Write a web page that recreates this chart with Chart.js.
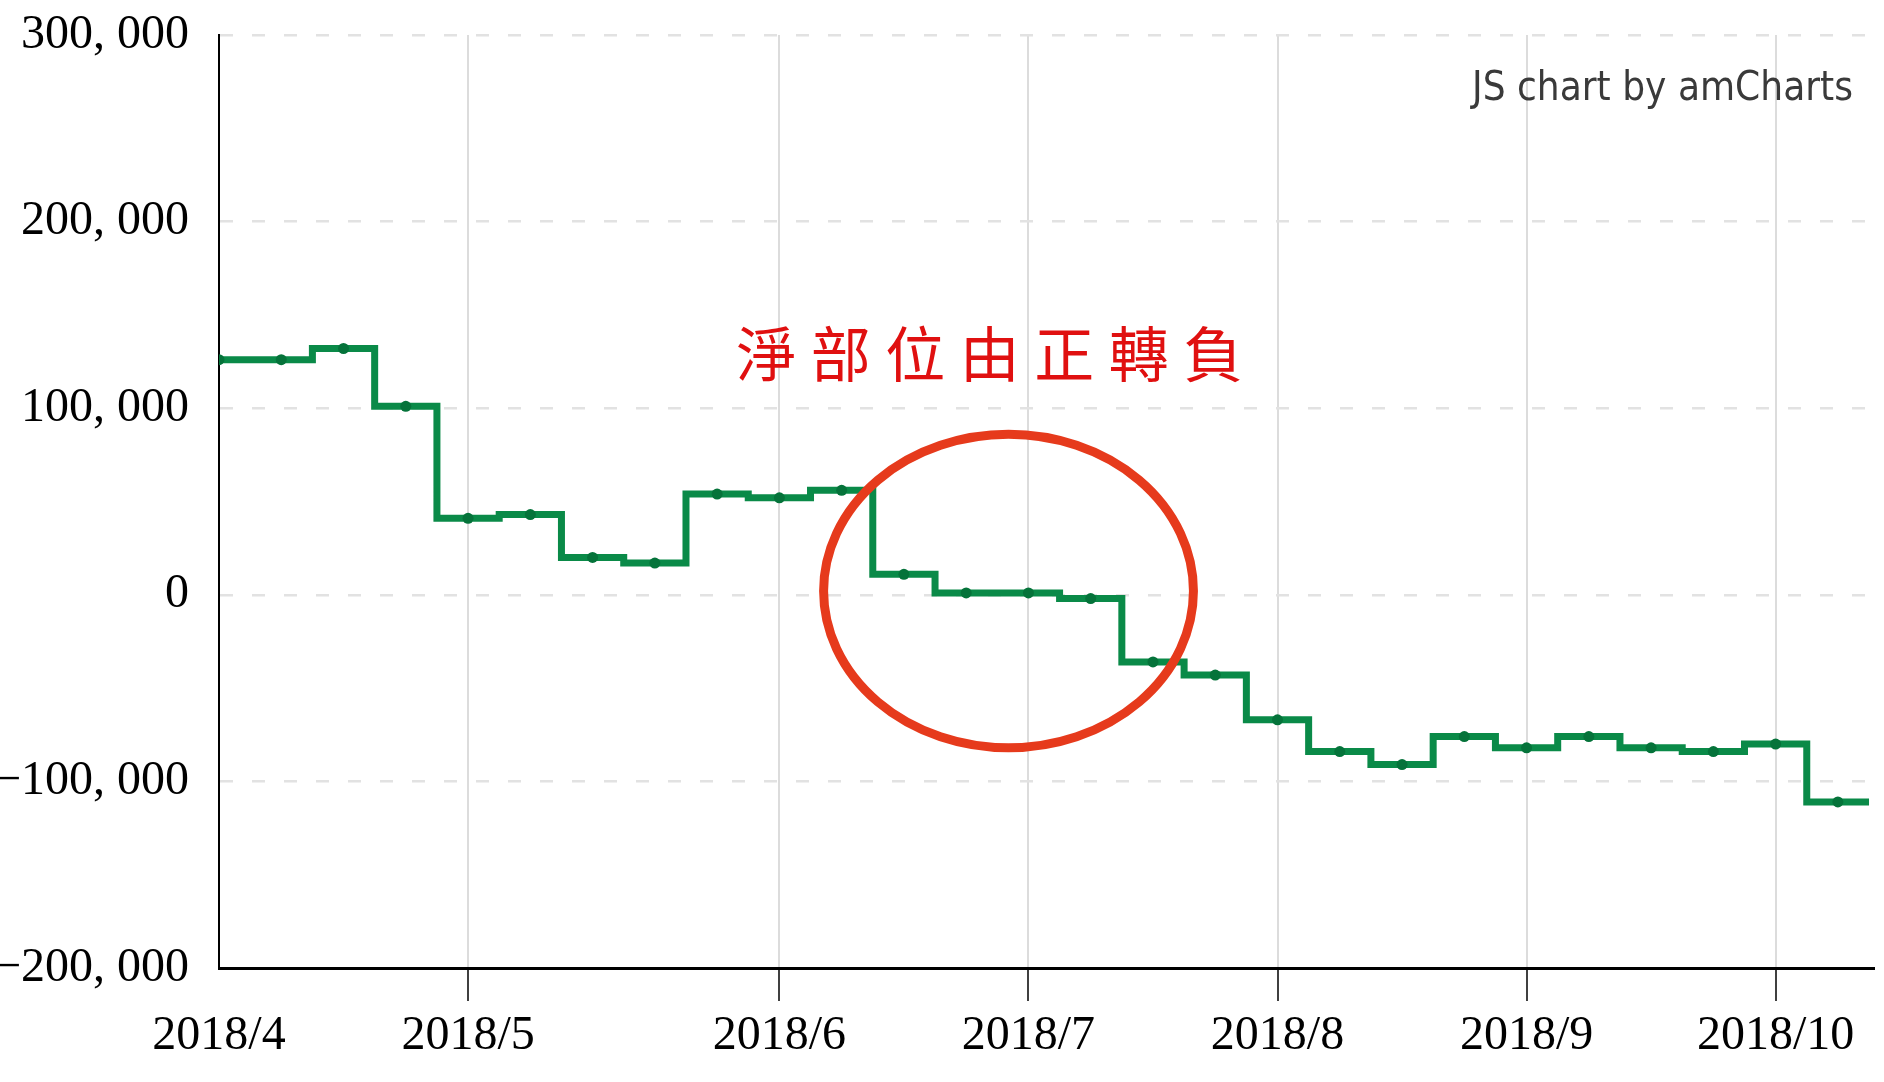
<!DOCTYPE html>
<html lang="zh-Hant">
<head>
<meta charset="utf-8">
<title>淨部位由正轉負</title>
<script src="https://cdn.jsdelivr.net/npm/chart.js@4.4.1/dist/chart.umd.min.js"></script>
<style>
  html, body { margin: 0; padding: 0; background: #fff; }
  canvas { display: block; }
</style>
</head>
<body>
<canvas id="myChart" width="1884" height="1082"></canvas>
<script>
// weekly net position, 2018/4 - 2018/10
var netPosition = [126000, 126000, 132000, 101000, 41000, 43000, 20000, 17000, 54000, 52000,
  56000, 11000, 1000, 1000, -2000, -36000, -43000, -67000, -84000, -91000,
  -76000, -82000, -76000, -82000, -84000, -80000, -111000];
var monthTickIdx = [0, 4, 9, 13, 17, 21, 25];
var monthLabels = ["2018/4", "2018/5", "2018/6", "2018/7", "2018/8", "2018/9", "2018/10"];
var yMin = -200000, yMax = 300000, yStep = 100000;
var noteText = "淨部位由正轉負";
var watermark = "JS chart by amCharts";

// annotation anchors in data units (week index, value)
var noteAt = { x: 12.38, y: 129000 };
var ringAt = { x: 12.68, y: 2000, rx: 2.97, ry: 84000 };

var lineColor = "#0a8a48";
var dotColor = "#05733a";
var serif = "'Liberation Serif', 'Times New Roman', serif";

function fmt(v) {
  if (v === 0) return "0";
  var s = Math.abs(v).toLocaleString("en-US").replace(/,/g, ", ");
  return (v < 0 ? "\u2212" : "") + s;
}

var notePlugin = {
  id: "note",
  beforeDatasetsDraw: function (chart) {
    // amCharts-style step: last week keeps its half step
    var xs = chart.scales.x, ys = chart.scales.y, ctx = chart.ctx;
    var last = netPosition.length - 1;
    var y = ys.getPixelForValue(netPosition[last]);
    ctx.save();
    ctx.strokeStyle = lineColor;
    ctx.lineWidth = 7;
    ctx.beginPath();
    ctx.moveTo(xs.getPixelForValue(last), y);
    ctx.lineTo(xs.getPixelForValue(last + 0.5), y);
    ctx.stroke();
    ctx.restore();
  },
  afterDatasetsDraw: function (chart) {
    var xs = chart.scales.x, ys = chart.scales.y, ctx = chart.ctx;
    var area = chart.chartArea;
    ctx.save();

    // red ring
    var cx = xs.getPixelForValue(ringAt.x);
    var cy = ys.getPixelForValue(ringAt.y);
    var rx = xs.getPixelForValue(ringAt.x + ringAt.rx) - cx;
    var ry = cy - ys.getPixelForValue(ringAt.y + ringAt.ry);
    ctx.strokeStyle = "#e63a1c";
    ctx.lineWidth = 9;
    ctx.beginPath();
    ctx.ellipse(cx, cy, rx, ry, 0, 0, Math.PI * 2);
    ctx.stroke();

    // red note, spaced characters
    var tx = xs.getPixelForValue(noteAt.x);
    var ty = ys.getPixelForValue(noteAt.y);
    var adv = 74.5;
    ctx.fillStyle = "#e01010";
    ctx.font = "60px 'Noto Sans CJK TC'";
    ctx.textAlign = "center";
    ctx.textBaseline = "middle";
    var chars = Array.from(noteText);
    chars.forEach(function (c, i) {
      ctx.fillText(c, tx + (i - (chars.length - 1) / 2) * adv, ty);
    });

    // watermark
    ctx.font = "40px 'DejaVu Sans'";
    ctx.fillStyle = "#3a3a3a";
    ctx.textAlign = "left";
    ctx.textBaseline = "alphabetic";
    var w = ctx.measureText(watermark).width;
    var k = 381 / w;
    ctx.translate(area.right - 21 - 381, area.top + 65);
    ctx.scale(k, 1);
    ctx.fillText(watermark, 0, 0);
    ctx.restore();
  }
};

var ctx = document.getElementById("myChart").getContext("2d");
var myChart = new Chart(ctx, {
  type: "line",
  data: {
    datasets: [
      {
        label: "net",
        data: netPosition.map(function (v, i) { return { x: i, y: v }; }),
        stepped: "middle",
        borderColor: lineColor,
        borderWidth: 7,
        pointRadius: 5.5,
        pointBackgroundColor: dotColor,
        pointBorderWidth: 0,
        fill: false,
      },
    ],
  },
  options: {
    responsive: false,
    animation: false,
    devicePixelRatio: 1,
    layout: { padding: { top: 35, right: 10, left: 0, bottom: 0 } },
    plugins: { legend: { display: false }, tooltip: { enabled: false } },
    scales: {
      x: {
        type: "linear",
        min: 0,
        max: 26.58,
        afterBuildTicks: function (scale) {
          scale.ticks = monthTickIdx.map(function (v) { return { value: v }; });
        },
        afterFit: function (scale) { scale.height = 114; },
        grid: {
          color: "#dcdcdc",
          lineWidth: 2,
          tickLength: 33,
          tickWidth: 1.5,
          tickColor: function (c) { return c.index === 0 ? "rgba(0,0,0,0)" : "#000"; },
        },
        border: { color: "#000", width: 3 },
        ticks: {
          autoSkip: false,
          maxRotation: 0,
          padding: 7,
          color: "#000",
          font: { family: serif, size: 48 },
          callback: function (v, i) { return monthLabels[i]; },
        },
      },
      y: {
        min: yMin,
        max: yMax,
        afterFit: function (scale) { scale.width = 219; },
        grid: { color: "#e2e2e2", lineWidth: 2.5, drawTicks: false },
        border: { color: "#000", width: 2, dash: [13, 19] },
        ticks: {
          stepSize: yStep,
          padding: 30,
          color: "#000",
          font: { family: serif, size: 48, lineHeight: 0.2 },
          callback: function (v) { return fmt(v); },
        },
      },
    },
  },
  plugins: [notePlugin],
});
</script>
</body>
</html>
